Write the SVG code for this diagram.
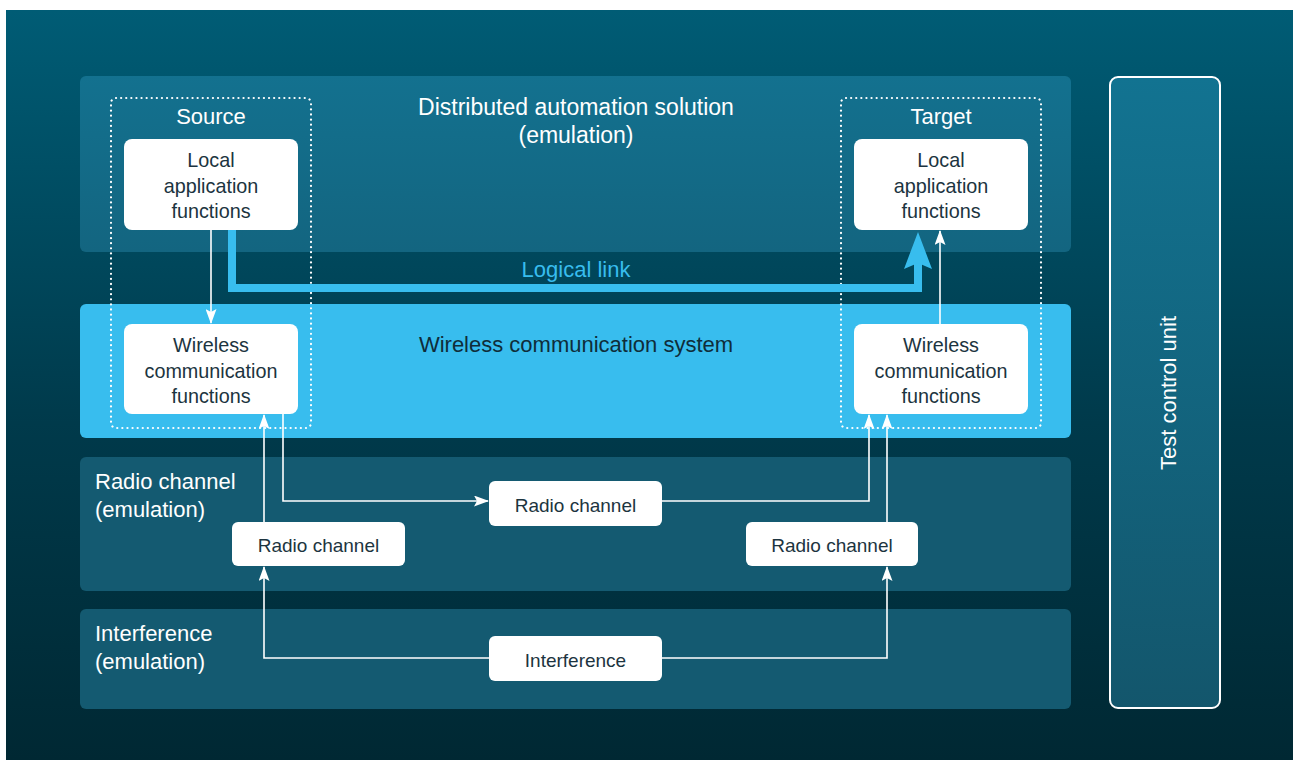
<svg xmlns="http://www.w3.org/2000/svg" width="1300" height="760" viewBox="0 0 1300 760">
  <style>
    text { font-family: "Liberation Sans", Arial, sans-serif; }
    .lbl { font-size: 22px; fill: #ffffff; }
    .lbl-dark { font-size: 22px; fill: #0f2d3a; }
    .box { fill: #ffffff; }
    .boxtxt { font-size: 19.8px; fill: #1c3440; text-anchor: middle; }
    .dotted { fill: none; stroke: #ffffff; stroke-width: 2.2; stroke-dasharray: 0.1 5; stroke-linecap: round; }
    .conn { fill: none; stroke: #ffffff; stroke-width: 1.6; }
    .mid { text-anchor: middle; }
  </style>
  <defs>
    <linearGradient id="bg" x1="0" y1="0" x2="0" y2="1">
      <stop offset="0" stop-color="#005c75"/>
      <stop offset="0.55" stop-color="#003a4b"/>
      <stop offset="1" stop-color="#002833"/>
    </linearGradient>
    <linearGradient id="topPanel" x1="0" y1="0" x2="0" y2="1">
      <stop offset="0" stop-color="#13718f"/>
      <stop offset="1" stop-color="#136580"/>
    </linearGradient>
    <linearGradient id="tcu" x1="0" y1="0" x2="0" y2="1">
      <stop offset="0" stop-color="#127391"/>
      <stop offset="1" stop-color="#13566c"/>
    </linearGradient>
    <marker id="arrW" viewBox="0 0 15 11" markerWidth="15" markerHeight="11" refX="14" refY="5.5" orient="auto" markerUnits="userSpaceOnUse">
      <path d="M0,0 L15,5.5 L0,11 L3,5.5 z" fill="#ffffff"/>
    </marker>
  </defs>

  <rect x="6" y="10" width="1287" height="750" fill="url(#bg)"/>

  <g id="panel-das">
    <rect x="80" y="76" width="991" height="176" rx="6" fill="url(#topPanel)"/>
    <text class="lbl mid" x="576" y="115" style="font-size:23px">Distributed automation solution</text>
    <text class="lbl mid" x="576" y="143" style="font-size:23px">(emulation)</text>
  </g>
  <g id="panel-wcs">
    <rect x="80" y="304" width="991" height="134" rx="6" fill="#38bdee"/>
    <text class="lbl-dark mid" x="576" y="352">Wireless communication system</text>
  </g>
  <g id="panel-radio">
    <rect x="80" y="457" width="991" height="134" rx="6" fill="#145a71"/>
    <text class="lbl" x="95" y="489">Radio channel</text>
    <text class="lbl" x="95" y="517">(emulation)</text>
  </g>
  <g id="panel-interference">
    <rect x="80" y="609" width="991" height="100" rx="6" fill="#145a71"/>
    <text class="lbl" x="95" y="641">Interference</text>
    <text class="lbl" x="95" y="669">(emulation)</text>
  </g>
  <g id="test-control-unit">
    <rect x="1110" y="77" width="110" height="631" rx="8" fill="url(#tcu)" stroke="#ffffff" stroke-width="2"/>
    <text class="lbl mid" transform="translate(1176,393) rotate(-90)">Test control unit</text>
  </g>

  <g id="source">
    <rect class="dotted" x="111" y="98" width="200" height="330" rx="5"/>
    <text class="lbl mid" x="211" y="124">Source</text>
  </g>
  <g id="target">
    <rect class="dotted" x="841" y="98" width="200" height="330" rx="5"/>
    <text class="lbl mid" x="941" y="124">Target</text>
  </g>

  <g id="src-local-app">
    <rect class="box" x="124" y="139" width="174" height="91" rx="8"/>
    <text class="boxtxt" x="211" y="167">Local</text>
    <text class="boxtxt" x="211" y="193">application</text>
    <text class="boxtxt" x="211" y="218">functions</text>
  </g>
  <g id="tgt-local-app">
    <rect class="box" x="854" y="139" width="174" height="91" rx="8"/>
    <text class="boxtxt" x="941" y="167">Local</text>
    <text class="boxtxt" x="941" y="193">application</text>
    <text class="boxtxt" x="941" y="218">functions</text>
  </g>
  <g id="src-wireless">
    <rect class="box" x="124" y="324" width="174" height="90" rx="8"/>
    <text class="boxtxt" x="211" y="352">Wireless</text>
    <text class="boxtxt" x="211" y="378">communication</text>
    <text class="boxtxt" x="211" y="403">functions</text>
  </g>
  <g id="tgt-wireless">
    <rect class="box" x="854" y="324" width="174" height="90" rx="8"/>
    <text class="boxtxt" x="941" y="352">Wireless</text>
    <text class="boxtxt" x="941" y="378">communication</text>
    <text class="boxtxt" x="941" y="403">functions</text>
  </g>
  <g id="radio-mid">
    <rect class="box" x="489" y="481" width="173" height="45" rx="6"/>
    <text class="boxtxt" x="575.5" y="512" style="font-size:19px">Radio channel</text>
  </g>
  <g id="radio-left">
    <rect class="box" x="232" y="522" width="173" height="44" rx="6"/>
    <text class="boxtxt" x="318.5" y="552" style="font-size:19px">Radio channel</text>
  </g>
  <g id="radio-right">
    <rect class="box" x="746" y="522" width="172" height="44" rx="6"/>
    <text class="boxtxt" x="832" y="552" style="font-size:19px">Radio channel</text>
  </g>
  <g id="interference">
    <rect class="box" x="489" y="636" width="173" height="45" rx="6"/>
    <text class="boxtxt" x="575.5" y="667" style="font-size:19px">Interference</text>
  </g>

  <g id="connectors">
    <path class="conn" d="M211,230 V323" marker-end="url(#arrW)"/>
    <path class="conn" d="M940,324 V231" marker-end="url(#arrW)"/>
    <path class="conn" d="M283,414 V501 H488" marker-end="url(#arrW)"/>
    <path class="conn" d="M662,501 H869 V415" marker-end="url(#arrW)"/>
    <path class="conn" d="M264,522 V415" marker-end="url(#arrW)"/>
    <path class="conn" d="M887,522 V415" marker-end="url(#arrW)"/>
    <path class="conn" d="M489,658 H264 V567" marker-end="url(#arrW)"/>
    <path class="conn" d="M662,658 H887 V567" marker-end="url(#arrW)"/>
    <g id="logical-link">
      <path d="M232,230 V288 H918 V262" fill="none" stroke="#38bdee" stroke-width="8"/>
      <path d="M918,232 L932,269 L918,263 L904,269 z" fill="#38bdee"/>
      <text x="576" y="277" class="mid" style="font-size:22px; fill:#38bdee;">Logical link</text>
    </g>
  </g>
</svg>
